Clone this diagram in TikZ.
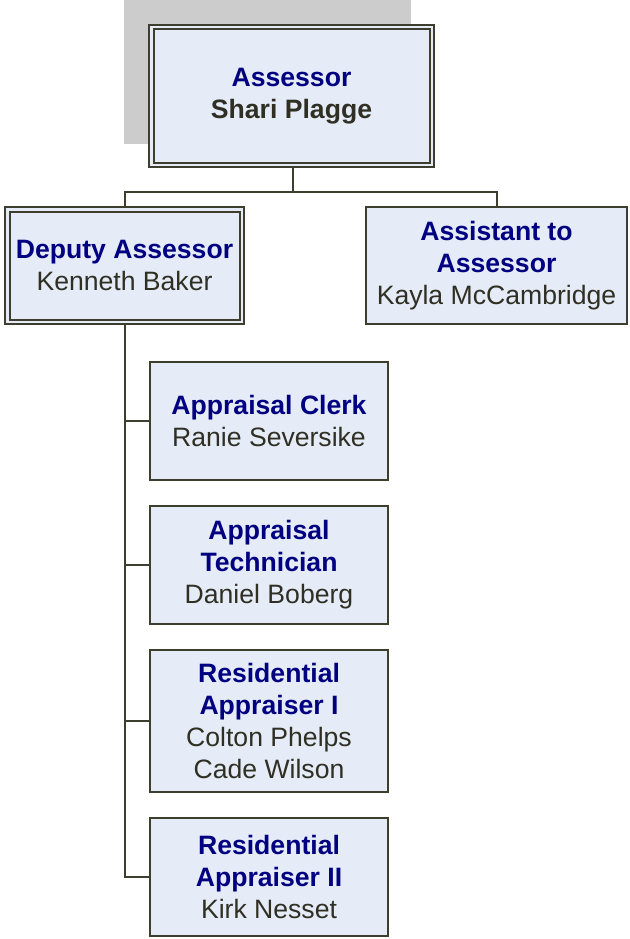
\documentclass[tikz,border=0pt]{standalone}
\usepackage{fontspec}
\setmainfont{Liberation Sans}
\definecolor{boxfill}{HTML}{E6ECF7}
\definecolor{edgecol}{HTML}{3E3E2E}
\definecolor{titlecol}{HTML}{000080}
\definecolor{namecol}{HTML}{2F2F24}
\definecolor{shadowgray}{HTML}{CCCCCC}
\newcommand\ttl[1]{{\bfseries\color{titlecol}#1}}
\begin{document}
\begin{tikzpicture}[x=1pt,y=-1pt,
    box/.style={draw=edgecol, line width=2pt, fill=boxfill, inner sep=0pt,
      align=center, text=namecol, font=\fontsize{26.6}{32}\selectfont},
    dbox/.style={box, line width=2pt, double=boxfill, double distance=2.5pt},
    link/.style={draw=edgecol, line width=2pt}]
  \useasboundingbox (0,0) rectangle (629,939);
  \fill[shadowgray] (124,0) rectangle (411,144);
  \node[dbox, minimum width=280.5, minimum height=137.5] (boss) at (291.5,96)
    {\ttl{Assessor}\\\bfseries Shari Plagge};
  \node[dbox, minimum width=234.5, minimum height=112.5] (deputy) at (124.5,265.5)
    {\ttl{Deputy Assessor}\\Kenneth Baker};
  \node[box, minimum width=261, minimum height=117] (assistant) at (496.5,265.5)
    {\ttl{Assistant to}\\\ttl{Assessor}\\Kayla McCambridge};
  \node[box, minimum width=238, minimum height=118] (clerk) at (269,421)
    {\ttl{Appraisal Clerk}\\Ranie Seversike};
  \node[box, minimum width=238, minimum height=118] (tech) at (269,565)
    {\ttl{Appraisal}\\\ttl{Technician}\\Daniel Boberg};
  \node[box, minimum width=238, minimum height=142] (res1) at (269,721)
    {\ttl{Residential}\\\ttl{Appraiser I}\\Colton Phelps\\Cade Wilson};
  \node[box, minimum width=238, minimum height=118] (res2) at (269,877)
    {\ttl{Residential}\\\ttl{Appraiser II}\\Kirk Nesset};
  \coordinate (split) at (293,192);
  % top level
  \draw[link] (boss.south -| split) -- (split) -| (deputy.north);
  \draw[link] (split) -| (assistant.north);
  % deputy's staff
  \draw[link] (deputy.south) |- (res2.west);
  \draw[link] (deputy.south |- clerk.west) -- (clerk.west);
  \draw[link] (deputy.south |- tech.west) -- (tech.west);
  \draw[link] (deputy.south |- res1.west) -- (res1.west);
\end{tikzpicture}
\end{document}
